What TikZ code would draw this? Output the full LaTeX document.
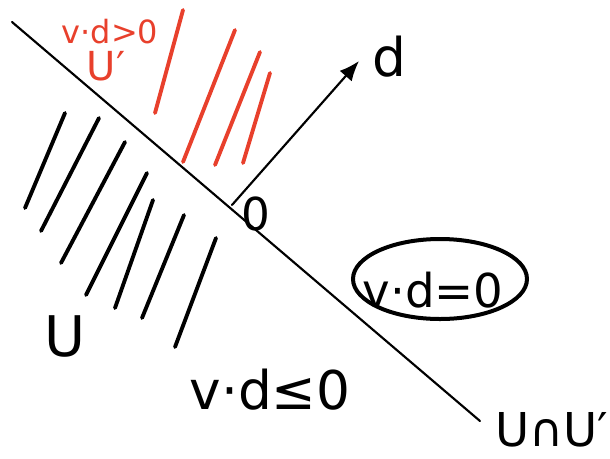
\documentclass[tikz,border=0pt]{standalone}
\usepackage{fontspec}
\setmainfont{DejaVu Sans}
\usetikzlibrary{arrows.meta,positioning}
\definecolor{penred}{HTML}{E8402C}
\definecolor{ink}{HTML}{000000}

\begin{document}
\begin{tikzpicture}[
  x=0.75pt,y=-0.75pt,
  >={Latex[length=15pt,width=12pt]},
  pen/.style={ink,line width=1.6pt,line cap=round},
  hatch/.style={line width=2.9pt,line cap=round},
  lbl/.style={inner sep=0pt},
  ring/.style={ink,line width=3pt},
]
\useasboundingbox (0,0) rectangle (610,458);

% ============ plane v.d = 0 and direction d ============
\coordinate (lstart) at (12,22);
\coordinate (lend) at (480,421);
\coordinate (orig) at (232,205);
\coordinate (dtip) at (359,61);
\draw[pen] (lstart) -- (lend);
\draw[pen,->] (orig) -- (dtip);
\node[lbl,font=\fontsize{40}{44}\selectfont,right=3.4mm of dtip,yshift=3pt] (dl) {d};
\node[lbl,font=\fontsize{34}{38}\selectfont] (zero) at (256,214) {0};

% ============ half space U' (red) ============
\foreach \xa/\ya/\xb/\yb in {183/10/155/113, 235/30/183/162, 260/52/215/165, 270/73/243/163}
  \draw[hatch,penred] (\xa,\ya) -- (\xb,\yb);
\node[lbl,penred,font=\fontsize{24}{28}\selectfont] (gt) at (110,32) {v·d>0};
\node[lbl,penred,font=\fontsize{30}{34}\selectfont] (uprime) at (106,66) {U′};

% ============ half space U (black) ============
\foreach \xa/\ya/\xb/\yb in {65/113/25/208, 99/118/41/231, 125/142/61/263, 147/173/86/295,
    153/200/115/308, 184/215/142/318, 216/238/175/347}
  \draw[hatch,ink] (\xa,\ya) -- (\xb,\yb);
\node[lbl,font=\fontsize{42}{46}\selectfont] (u) at (65,336) {U};
\node[lbl,font=\fontsize{40}{44}\selectfont] (le) at (270,390) {v·d≤0};

% ============ boundary ============
\node[lbl,font=\fontsize{35}{40}\selectfont] (eq) at (433,290) {v·d=0};
\draw[ring] (440,279) ellipse [x radius=87,y radius=40];
\node[lbl,anchor=west,font=\fontsize{35}{40}\selectfont] (cap) at (495,430) {U∩U′};

\end{tikzpicture}
\end{document}
